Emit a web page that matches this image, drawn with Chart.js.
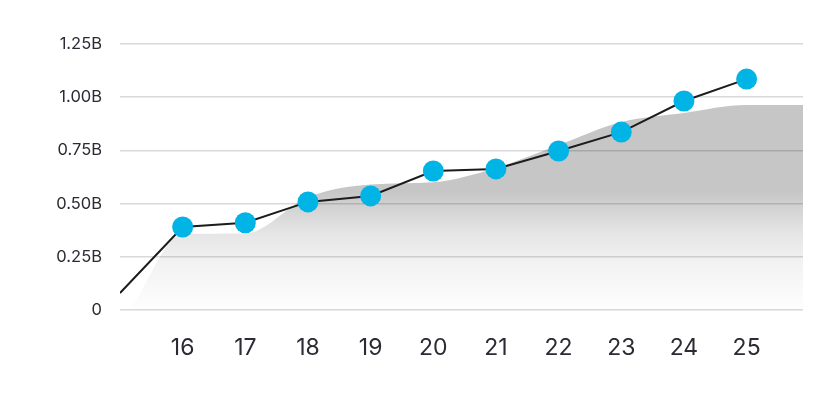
<!DOCTYPE html>
<html>
<head>
<meta charset="utf-8">
<script src="https://cdn.jsdelivr.net/npm/chart.js@4.4.0/dist/chart.umd.min.js"></script>
<style>
  html, body { margin: 0; padding: 0; background: #fff; }
  #wrap { width: 840px; height: 400px; }
</style>
</head>
<body>
<div id="wrap"><canvas id="growth-chart"></canvas></div>
<script>
// x tick labels and where they sit on the x scale
const tickLabels = ['16', '17', '18', '19', '20', '21', '22', '23', '24', '25'];
const tickPositions = [16, 17, 18, 19, 20, 21, 22, 23, 24, 25];

// line series (billions), first point is off the left edge with no dot
const lineX = [15, 16, 17, 18, 19, 20, 21, 22, 23, 24, 25];
const lineValues = [0.08, 0.39, 0.41, 0.508, 0.536, 0.653, 0.663, 0.747, 0.836, 0.982, 1.085];

// grey background area (billions)
const areaX = [15.2, 16, 17, 18, 19, 20, 21, 22, 23, 24, 25, 25.9];
const areaValues = [0.02, 0.357, 0.36, 0.53, 0.59, 0.6, 0.667, 0.775, 0.883, 0.926, 0.963, 0.963];

// y ticks (billions)
const yTicks = [0, 0.25, 0.5, 0.75, 1.0, 1.25];

function toPoints(xs, ys) {
    return xs.map(function (x, i) {
        return { x: x, y: ys[i] };
    });
}

function areaFill(context) {
    var chart = context.chart;
    var area = chart.chartArea;
    if (!area) {
        return 'rgba(0,0,0,0.2)';
    }
    var yScale = chart.scales.y;
    var top = yScale.getPixelForValue(0.56);
    var bottom = area.bottom;
    var g = chart.ctx.createLinearGradient(0, top, 0, bottom);
    g.addColorStop(0, 'rgba(0,0,0,0.225)');
    g.addColorStop(0.35, 'rgba(0,0,0,0.10)');
    g.addColorStop(0.6, 'rgba(0,0,0,0.05)');
    g.addColorStop(1, 'rgba(0,0,0,0.005)');
    return g;
}

const ctx = document.getElementById('growth-chart');

new Chart(ctx, {
    type: 'line',
    data: {
        datasets: [{
            label: 'line',
            data: toPoints(lineX, lineValues),
            borderColor: '#1c1c1c',
            borderWidth: 2,
            tension: 0,
            pointRadius: lineX.map(function (x, i) { return i === 0 ? 0 : 10.5; }),
            pointHoverRadius: 10.5,
            pointBackgroundColor: '#00b4e6',
            pointBorderWidth: 0,
            fill: false,
            order: 1
        }, {
            label: 'area',
            data: toPoints(areaX, areaValues),
            borderWidth: 0,
            borderColor: 'rgba(0,0,0,0)',
            backgroundColor: areaFill,
            pointRadius: 0,
            cubicInterpolationMode: 'monotone',
            fill: 'origin',
            order: 2
        }]
    },
    options: {
        responsive: true,
        maintainAspectRatio: false,
        animation: false,
        layout: {
            padding: { top: 44, right: 37, left: 0, bottom: 0 }
        },
        plugins: {
            legend: { display: false },
            tooltip: { enabled: false }
        },
        scales: {
            x: {
                type: 'linear',
                min: 15,
                max: 25.9,
                afterBuildTicks: function (scale) {
                    scale.ticks = tickPositions.map(function (v) { return { value: v }; });
                },
                afterFit: function (scale) {
                    scale.height = 90;
                },
                grid: { display: false, drawTicks: false },
                border: { display: false },
                ticks: {
                    padding: 24,
                    color: '#2a2b33',
                    font: { family: 'Inter', size: 23 },
                    autoSkip: false,
                    maxRotation: 0,
                    callback: function (value) {
                        var idx = tickPositions.indexOf(value);
                        return idx >= 0 ? tickLabels[idx] : '';
                    }
                }
            },
            y: {
                min: 0,
                max: 1.25,
                afterBuildTicks: function (scale) {
                    scale.ticks = yTicks.map(function (v) { return { value: v }; });
                },
                afterFit: function (scale) {
                    scale.width = 120;
                },
                grid: {
                    color: 'rgba(0,0,0,0.15)',
                    lineWidth: 1.5,
                    drawTicks: false
                },
                border: { display: false },
                ticks: {
                    padding: 18,
                    color: '#2a2b33',
                    font: { family: 'Inter', size: 16.5 },
                    callback: function (value) {
                        return value === 0 ? '0' : value.toFixed(2) + 'B';
                    }
                }
            }
        }
    }
});
</script>
</body>
</html>
